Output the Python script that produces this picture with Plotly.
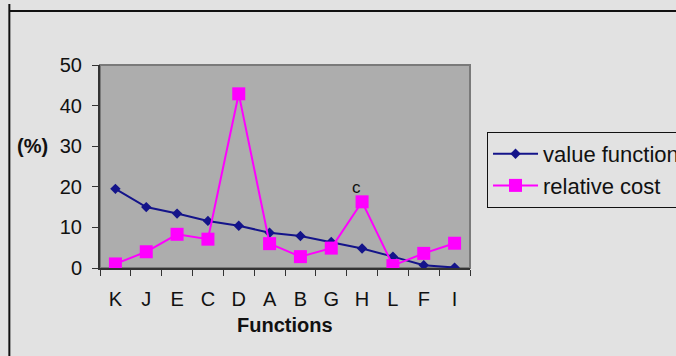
import plotly.graph_objects as go

# Functions ranked by value, with value share and relative cost share (%)
functions = ["K", "J", "E", "C", "D", "A", "B", "G", "H", "L", "F", "I"]
value_function = [19.5, 15.0, 13.4, 11.6, 10.4, 8.7, 7.9, 6.4, 4.8, 2.8, 0.7, 0.1]
relative_cost = [1.0, 4.0, 8.3, 7.1, 42.9, 6.0, 2.8, 4.9, 16.3, 0.6, 3.6, 6.1]
y_ticks = [0, 10, 20, 30, 40, 50]

FONT = "Liberation Sans, Arial, sans-serif"
NAVY = "#14148a"
PINK = "#ff00ff"

fig = go.Figure()
fig.add_trace(go.Scatter(
    x=functions, y=value_function, name="value function",
    mode="lines+markers", legendgroup="a",
    line=dict(color=NAVY, width=2),
    marker=dict(symbol="diamond", size=8, color=NAVY),
))
fig.add_trace(go.Scatter(
    x=functions, y=relative_cost, name="relative cost",
    mode="lines+markers", legendgroup="b",
    line=dict(color=PINK, width=2),
    marker=dict(symbol="square", size=13, color=PINK),
))

# label above the H point
fig.add_annotation(x="H", y=relative_cost[functions.index("H")], text="c",
                   showarrow=False, xshift=-6, yshift=14,
                   font=dict(family=FONT, size=17, color="#111"))

# plot-area frame (top / right edges)
fig.add_shape(type="rect", xref="paper", yref="paper", x0=0, x1=1, y0=0, y1=1,
              line=dict(color="#7a7a7a", width=2), layer="below")
# outer chart frame
fig.add_shape(type="line", xref="paper", yref="paper",
              x0=-0.245, x1=-0.245, y0=1.3, y1=-0.6,
              line=dict(color="#111", width=2))
fig.add_shape(type="line", xref="paper", yref="paper",
              x0=-0.245, x1=1.7, y0=1.266, y1=1.266,
              line=dict(color="#111", width=2))

fig.add_annotation(xref="paper", yref="paper", x=0.5, y=-0.345,
                   text="<b>Functions</b>", showarrow=False,
                   font=dict(family=FONT, size=20, color="#111"))
fig.add_annotation(xref="paper", yref="paper", x=-0.135, y=0.6,
                   xanchor="right", text="<b>(%)</b>", showarrow=False,
                   font=dict(family=FONT, size=20, color="#111"))

fig.update_xaxes(
    type="category", range=[-0.5, 11.5],
    showline=True, linecolor="#333", linewidth=2,
    ticks="outside", tickson="boundaries", ticklen=6, tickcolor="#333",
    ticklabelstandoff=12, showgrid=False,
    tickfont=dict(family=FONT, size=20, color="#111"),
)
fig.update_yaxes(
    range=[0, 50], tickvals=y_ticks,
    showline=True, linecolor="#333", linewidth=2,
    ticks="outside", ticklen=6, tickcolor="#333",
    ticklabelstandoff=6, showgrid=False, zeroline=False,
    tickfont=dict(family=FONT, size=20, color="#111"),
)

fig.update_layout(
    width=676, height=356,
    margin=dict(l=100, r=206, t=65, b=88, autoexpand=False),
    paper_bgcolor="#e2e2e2", plot_bgcolor="#adadad",
    showlegend=True,
    legend=dict(x=1.046, y=0.67, xanchor="left", yanchor="top",
                bgcolor="rgba(0,0,0,0)", bordercolor="#111", borderwidth=1,
                font=dict(family=FONT, size=22, color="#111"),
                itemwidth=45,
                traceorder="grouped", tracegroupgap=0),
)

fig.write_html("out.html")
